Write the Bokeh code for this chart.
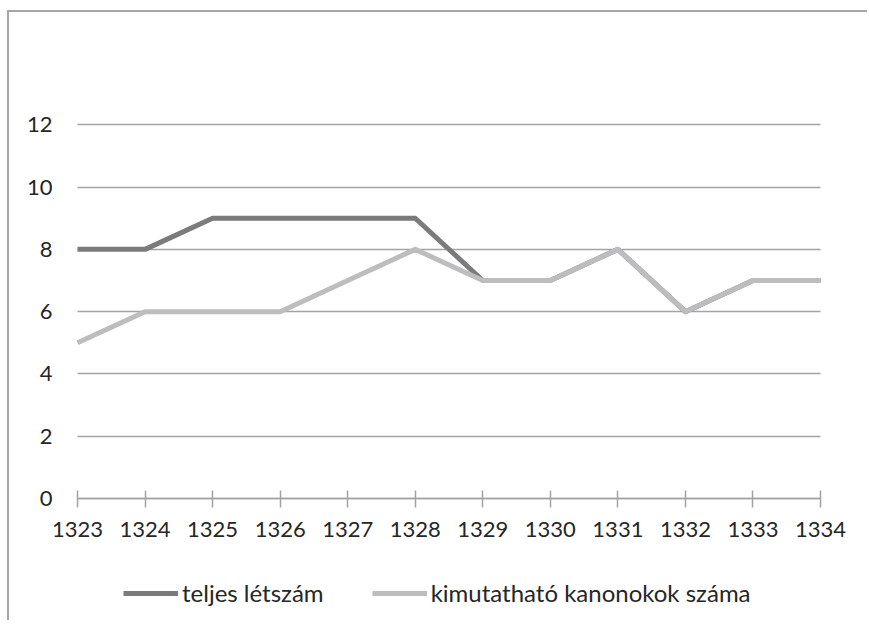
from bokeh.plotting import figure
from bokeh.models import FixedTicker, Range1d, Legend, LegendItem
from bokeh.embed import file_html
from bokeh.resources import INLINE

years = [1323, 1324, 1325, 1326, 1327, 1328, 1329, 1330, 1331, 1332, 1333, 1334]
teljes = [8, 8, 9, 9, 9, 9, 7, 7, 8, 6, 7, 7]
kimutathato = [5, 6, 6, 6, 7, 8, 7, 7, 8, 6, 7, 7]
y_ticks = [0, 2, 4, 6, 8, 10, 12]
series_names = ["teljes létszám", "kimutatható kanonokok száma"]

FONT = "Lato"
TXT = "#262626"
GRID = "#a3a3a3"

p = figure(width=860, height=610, output_backend="svg", toolbar_location=None,
           x_range=Range1d(1321.993, 1334.725), y_range=Range1d(-3.981, 14),
           min_border_left=0, min_border_right=0, min_border_top=50, min_border_bottom=0)
p.styles = {"margin-left": "7px", "margin-top": "10px",
            "border-left": "2px solid #a6a6a6", "border-top": "2px solid #a6a6a6"}
p.outline_line_color = None
p.background_fill_color = "white"
p.border_fill_color = "white"

r1 = p.line(years, teljes, line_color="#7b7b7d", line_width=5, line_join="round")
r2 = p.line(years, kimutathato, line_color="#bdbdbf", line_width=5, line_join="round")

xa = p.xaxis[0]
xa.fixed_location = 0
xa.bounds = (years[0], years[-1])
xa.ticker = FixedTicker(ticks=years)
xa.major_label_overrides = {y: str(y) for y in years}
xa.axis_line_color = GRID
xa.axis_line_width = 1.5
xa.major_tick_line_color = GRID
xa.major_tick_line_width = 1.5
xa.major_tick_in = 8
xa.major_tick_out = 9
xa.minor_tick_line_color = None
xa.major_label_standoff = 14
xa.major_label_text_font = FONT
xa.major_label_text_font_size = "22px"
xa.major_label_text_color = TXT

ya = p.yaxis[0]
ya.fixed_location = years[0]
ya.ticker = FixedTicker(ticks=y_ticks)
ya.axis_line_color = None
ya.major_tick_line_color = None
ya.minor_tick_line_color = None
ya.major_tick_in = 0
ya.major_tick_out = 0
ya.major_label_standoff = 25
ya.major_label_text_font = FONT
ya.major_label_text_font_size = "22px"
ya.major_label_text_color = TXT

p.xgrid.grid_line_color = None
try:
    p.ygrid.cross_bounds = (years[0], years[-1])
    p.ygrid.grid_line_color = GRID
    p.ygrid.grid_line_width = 1.5
except AttributeError:
    p.ygrid.grid_line_color = None
    p.segment(x0=[years[0]] * len(y_ticks), x1=[years[-1]] * len(y_ticks),
              y0=y_ticks, y1=y_ticks, line_color=GRID, line_width=1.5, level="underlay")

legend = Legend(items=[LegendItem(label=series_names[0], renderers=[r1]),
                       LegendItem(label=series_names[1], renderers=[r2])],
                orientation="horizontal", location=(114, 15),
                label_text_font=FONT, label_text_font_size="24px", label_text_color=TXT,
                glyph_width=55, glyph_height=22, label_standoff=4, spacing=48,
                border_line_color=None, background_fill_alpha=0, margin=0, padding=10)
p.add_layout(legend, "center")

open("out.html", "w").write(file_html(p, INLINE))
